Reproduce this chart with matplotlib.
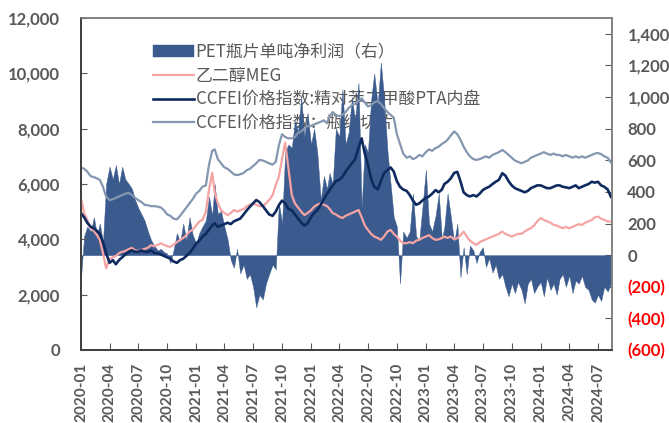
import pandas as pd
import matplotlib.pyplot as plt
import matplotlib.dates as mdates

# Three readings per month (1st, 11th, 21st), Jan 2020 - Aug 2024
pet_price = [
    6600, 6550, 6450, 6280, 6250, 6200, 6150, 5900, 5550, 5420, 5450, 5500,
    5550, 5600, 5650, 5680, 5600, 5500, 5420, 5350, 5250, 5230, 5200, 5200,
    5180, 5150, 5050, 4900, 4850, 4750, 4720, 4850, 5000, 5150, 5300, 5450,
    5650, 5750, 5900, 5950, 6700, 7200, 7250, 6900, 6750, 6600, 6550, 6450,
    6350, 6320, 6350, 6400, 6500, 6550, 6650, 6750, 6870, 6850, 6800, 6750,
    6700, 6800, 7400, 7800, 7700, 7650, 7650, 7700, 7850, 7900, 8000, 8100,
    8100, 8150, 8200, 8250, 8300, 8200, 8450, 8600, 8500, 8450, 8500, 8600,
    8750, 8850, 8900, 9000, 9100, 8950, 8800, 8850, 8950, 9000, 8900, 8750,
    8600, 8500, 8400, 7800, 7450, 7100, 6950, 7000, 6900, 6950, 7050, 7000,
    7150, 7250, 7200, 7300, 7350, 7450, 7500, 7600, 7750, 7900, 7800, 7600,
    7350, 7150, 7000, 6900, 6870, 6900, 6950, 7000, 6950, 7050, 7100, 7150,
    7230, 7150, 7050, 6950, 6850, 6800, 6750, 6800, 6850, 6950, 7000, 7050,
    7100, 7150, 7100, 7050, 7100, 7050, 7050, 7000, 7050, 7000, 6950, 7000,
    6950, 7000, 6950, 7000, 7050, 7100, 7120, 7080, 7000, 6950, 6780,
]

pta = [
    4950, 4800, 4600, 4450, 4400, 4300, 4200, 3900, 3500, 3150, 3250, 3100,
    3250, 3350, 3450, 3550, 3600, 3550, 3550, 3600, 3550, 3550, 3600, 3500,
    3500, 3450, 3400, 3350, 3300, 3200, 3150, 3250, 3300, 3400, 3500, 3650,
    3850, 3950, 4100, 4200, 4350, 4500, 4580, 4450, 4500, 4550, 4600, 4550,
    4650, 4700, 4750, 4900, 5050, 5180, 5300, 5420, 5350, 5200, 5050, 4900,
    4850, 5000, 5240, 5400, 5300, 5100, 5050, 4900, 4750, 4600, 4500, 4580,
    4800, 4950, 5050, 5250, 5450, 5650, 5780, 5950, 6100, 6150, 6260, 6450,
    6600, 6750, 6900, 7300, 7650, 7100, 6700, 6200, 5900, 5800, 6100, 6400,
    6500, 6600, 6450, 6100, 5900, 5800, 5750, 5600, 5400, 5250, 5300, 5400,
    5500, 5550, 5650, 5780, 5700, 5800, 6000, 6080, 6200, 6400, 6440, 6100,
    5700, 5600, 5550, 5600, 5550, 5650, 5780, 5850, 5900, 6000, 6080, 6150,
    6390, 6300, 6100, 5950, 5850, 5800, 5750, 5700, 5750, 5850, 5900, 5950,
    5950, 5900, 5850, 5850, 5900, 5950, 5950, 5900, 5880, 5850, 5900, 5950,
    5850, 5900, 5950, 6000, 6080, 6050, 6080, 5950, 5900, 5800, 5540,
]

meg = [
    5490, 4950, 4700, 4400, 4300, 4150, 3980, 3500, 2950, 3300, 3350, 3400,
    3500, 3550, 3580, 3650, 3690, 3600, 3580, 3620, 3650, 3700, 3790, 3750,
    3800, 3860, 3800, 3750, 3730, 3800, 3900, 3980, 4050, 4150, 4280, 4350,
    4500, 4640, 4700, 5000, 5800, 6400, 5700, 5300, 5060, 4950, 4880, 4950,
    5060, 5000, 5050, 5100, 5200, 5250, 5300, 5250, 5200, 5200, 5300, 5420,
    5600, 5960, 6260, 6900, 7500, 6600, 5600, 5300, 5150, 5000, 4880, 4950,
    5050, 5180, 5250, 5300, 5250, 5200, 5100, 4950, 4900, 4820, 4770, 4850,
    4900, 4950, 5000, 5060, 4800, 4500, 4340, 4200, 4100, 4050, 3980, 4100,
    4280, 4340, 4200, 4100, 3950, 3860, 3860, 3900, 3860, 3950, 3980, 4050,
    4100, 4150, 4050, 3980, 4000, 4050, 4100, 4050, 4100, 4000, 4040, 4150,
    4280, 4100, 3950, 3860, 3800, 3900, 3950, 4000, 4050, 4100, 4150, 4200,
    4280, 4200, 4150, 4100, 4150, 4200, 4200, 4280, 4350, 4400, 4500, 4650,
    4770, 4700, 4650, 4600, 4520, 4500, 4450, 4400, 4450, 4400, 4450, 4500,
    4550, 4520, 4600, 4650, 4700, 4800, 4820, 4750, 4700, 4650, 4640,
]

# PET bottle chip net profit per ton, right axis
profit = [
    -150, 120, 180, 150, 240, 130, 200, 80, 450, 560, 480, 570,
    450, 560, 480, 450, 420, 350, 300, 260, 220, 150, 95, 60,
    30, 40, 20, 10, -50, 30, 140, 80, 200, 95, 240, 130,
    75, 140, 180, 220, 370, 250, 450, 260, 280, 180, 100, -30,
    -80, 40, -115, -60, -150, -120, -200, -330, -250, -280, -180, -120,
    -60, -90, 330, 200, 650, 700, 680, 850, 780, 1000, 750, 900,
    700, 800, 650, 350, 500, 420, 520, 450, 800, 750, 1050, 700,
    780, 1000, 850, 1090, 300, 700, 650, 980, 1150, 950, 1220, 1000,
    660, 450, 240, 180, -180, 150, 110, 150, 390, 120, 90, 300,
    540, 200, 150, 250, 390, 100, 180, 390, 250, 80, 200, -140,
    50, -120, 60, 30, -50, 20, 50, -75, -20, -110, -60, -150,
    -120, -200, -260, -180, -240, -170, -220, -305, -180, -150, -240, -200,
    -170, -260, -140, -220, -180, -250, -150, -120, -200, -130, -240, -160,
    -180, -130, -200, -220, -280, -300, -250, -290, -200, -230, -180,
]

dates = [pd.Timestamp(y, m, d) for y in range(2020, 2025)
         for m in range(1, 13) for d in (1, 11, 21)][:len(profit)]

labels = ['PET瓶片单吨净利润（右）', '乙二醇MEG',
          'CCFEI价格指数:精对苯二甲酸PTA内盘', 'CCFEI价格指数：瓶级切片']
right_ticks = [-600, -400, -200, 0, 200, 400, 600, 800, 1000, 1200, 1400]

grey = '#595959'
plt.rcParams['font.family'] = ['Lato', 'Noto Sans CJK SC', 'DejaVu Sans']

fig = plt.figure(figsize=(6.69, 4.23), dpi=100)
ax = fig.add_axes([0.121, 0.1726, 0.794, 0.7848])
ax2 = ax.twinx()

area = ax2.fill_between(dates, 0, profit, color='#3B5B8E', lw=0.3,
                        edgecolor='#3B5B8E', zorder=2, label=labels[0])
l_meg, = ax.plot(dates, meg, color='#F5A3A3', lw=1.6, label=labels[1])
l_pta, = ax.plot(dates, pta, color='#0E2A5E', lw=1.9, label=labels[2])
l_pet, = ax.plot(dates, pet_price, color='#8596B0', lw=1.6, label=labels[3])

# lines above the profit area
ax.set_zorder(ax2.get_zorder() + 1)
ax.patch.set_visible(False)

ax.set_ylim(0, 12000)
ax.set_yticks(range(0, 12001, 2000))
ax.set_yticklabels([f'{v:,}' for v in range(0, 12001, 2000)])
ax2.set_ylim(-600, 1500)
ax2.set_yticks(right_ticks)
ax2.set_yticklabels([f'({-v:,})' if v < 0 else f'{v:,}' for v in right_ticks])
for lab, v in zip(ax2.get_yticklabels(), right_ticks):
    lab.set_color('#FF0000' if v < 0 else grey)

ax.set_xlim(pd.Timestamp(2020, 1, 1), pd.Timestamp(2024, 8, 15))
ax.xaxis.set_major_locator(mdates.MonthLocator(bymonth=[1, 4, 7, 10]))
ax.xaxis.set_major_formatter(mdates.DateFormatter('%Y-%m'))

ax.tick_params(axis='y', direction='in', length=4, pad=15, colors=grey,
               labelsize=12)
ax.tick_params(axis='x', direction='in', length=5, pad=9, colors=grey,
               labelsize=11, labelrotation=90)
ax2.tick_params(axis='y', direction='in', length=5, pad=11, color=grey,
                labelsize=12)
for a in (ax, ax2):
    for lab in a.get_xticklabels() + a.get_yticklabels():
        lab.set_fontweight('bold')
    for side in ('left', 'bottom'):
        a.spines[side].set_color('#404040')
        a.spines[side].set_linewidth(1.3)
    for side in ('top', 'right'):
        a.spines[side].set_color('#7F7F7F')
        a.spines[side].set_linewidth(1.1)

leg = ax2.legend([area, l_meg, l_pta, l_pet], labels, loc='upper left',
                 bbox_to_anchor=(0.12, 0.95), frameon=False, borderpad=0,
                 handlelength=2.4, handletextpad=0.1, labelspacing=0.34,
                 prop={'family': ['Noto Sans CJK SC', 'DejaVu Sans'], 'size': 12.2})
leg.set_zorder(1)
for t in leg.get_texts():
    t.set_color(grey)

fig.savefig('out.png', dpi=100)
